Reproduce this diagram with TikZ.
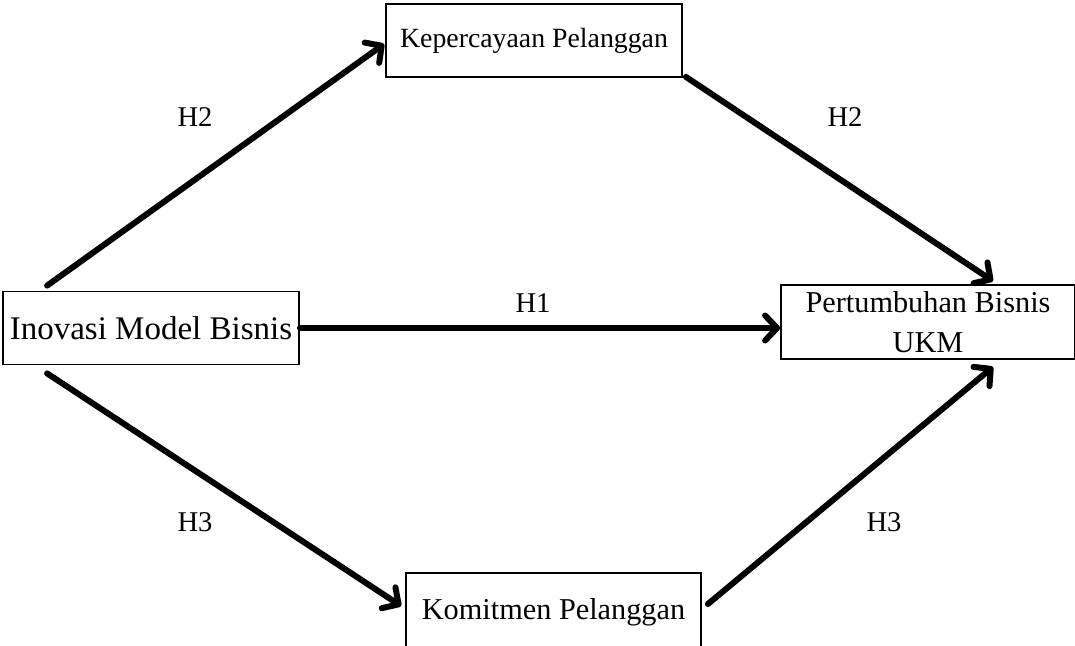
\documentclass[tikz,border=0pt]{standalone}
\usepackage{fontspec}
\setmainfont{Liberation Serif}
\usetikzlibrary{arrows.meta}

\tikzset{
  varbox/.style={draw=black, line width=1.8pt, inner sep=0pt, align=center,
                 minimum width=#1, minimum height=73pt},
  path/.style={line width=6pt, line cap=round, line join=round,
               -{Straight Barb[length=12pt,width=25pt,round]}},
  hyp/.style={inner sep=0pt, font=\fontsize{28.6}{32}\selectfont}
}

\begin{document}
\begin{tikzpicture}[x=1pt, y=-1pt]
  \useasboundingbox (0,0) rectangle (1075,645);

  % constructs
  \node[varbox=296pt, font=\fontsize{33}{38}\selectfont] (iv) at (151,328) {Inovasi Model Bisnis};
  \node[varbox=296pt, font=\fontsize{27.8}{32}\selectfont] (kep) at (534,40.5) {Kepercayaan Pelanggan};
  \node[varbox=294pt, minimum height=74pt, font=\fontsize{30.3}{40}\selectfont] (pert) at (928,322) {Pertumbuhan Bisnis\\UKM};
  \node[varbox=295pt, minimum height=78pt, font=\fontsize{30.3}{36}\selectfont] (kom) at (553.5,612) {Komitmen Pelanggan};

  % connector end points
  \coordinate (a1s) at ([xshift=45pt, yshift=5pt]iv.north west);
  \coordinate (a1e) at ([xshift=-1pt, yshift=-3.5pt]kep.west);
  \coordinate (a2s) at ([xshift=3pt, yshift=1pt]kep.south east);
  \coordinate (a2e) at ([xshift=65pt, yshift=3pt]pert.north);
  \coordinate (a4s) at ([xshift=45pt, yshift=-8pt]iv.south west);
  \coordinate (a4e) at ([xshift=-4pt, yshift=6pt]kom.west);
  \coordinate (a5s) at ([xshift=6pt, yshift=8pt]kom.east);
  \coordinate (a5e) at ([xshift=65pt, yshift=-7pt]pert.south);

  % hypothesised paths
  \draw[path] (a1s) -- (a1e);
  \draw[path] (a2s) -- (a2e);
  \draw[path] (iv.east) -- (iv.east -| pert.west);
  \draw[path] (a4s) -- (a4e);
  \draw[path] (a5s) -- (a5e);

  % hypothesis labels
  \node[hyp] (h2a) at (195,117) {H2};
  \node[hyp] (h2b) at (845,117) {H2};
  \node[hyp] (h1)  at (533,303) {H1};
  \node[hyp] (h3a) at (195,522) {H3};
  \node[hyp] (h3b) at (884,522) {H3};
\end{tikzpicture}
\end{document}
